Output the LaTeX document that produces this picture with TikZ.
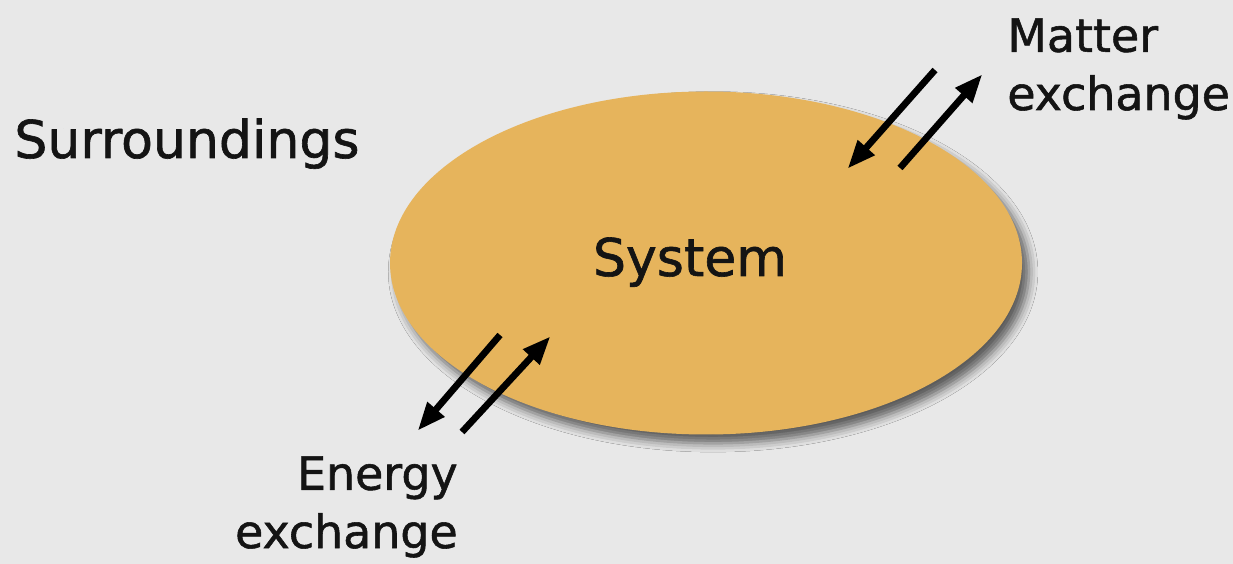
\documentclass[tikz,border=0pt]{standalone}
\usepackage{fontspec}
\setmainfont[FakeBold=1.2]{DejaVu Sans}
\usetikzlibrary{arrows.meta,shadows.blur,shapes.geometric}
\definecolor{bg}{HTML}{E8E8E8}
\definecolor{sysfill}{HTML}{E6B45C}
\definecolor{ink}{HTML}{141414}
\tikzset{
  lbl/.style={text=ink, inner sep=0pt, font=\fontsize{26}{33}\selectfont},
  biglbl/.style={text=ink, inner sep=0pt, font=\fontsize{29.5}{35}\selectfont},
  xarrow/.style={draw=black, line width=3.8pt, -{Triangle[length=16pt,width=12pt]}, shorten >=-2pt},
}
\begin{document}
\begin{tikzpicture}[x=0.567pt,y=-0.567pt]
\fill[bg] (0,0) rectangle (1233,564);
\useasboundingbox (0,0) rectangle (1233,564);
\node[ellipse, fill=sysfill, minimum width=632*0.567pt, minimum height=343*0.567pt, inner sep=0pt,
  blur shadow={shadow xshift=4pt, shadow yshift=-5pt, shadow blur radius=5pt, shadow opacity=60}]
  (sys) at (706,263) {};
\node[biglbl, anchor=base] (systxt) at (690,276) {System};
\node[biglbl, anchor=base west] (surr) at (14,158) {Surroundings};
\node[lbl, anchor=base west, align=left] (matter) at (1007,110) {Matter\\exchange};
\node[lbl, anchor=base east, align=right] (energy) at (458,548) {Energy\\exchange};
% matter arrows
\coordinate (m1s) at (935,70);
\coordinate (m1e) at (850,166);
\coordinate (m2s) at (900,168);
\coordinate (m2e) at (980,77);
\draw[xarrow] (m1s) -- (m1e);
\draw[xarrow] (m2s) -- (m2e);
% energy arrows
\coordinate (e1s) at (500,335);
\coordinate (e1e) at (420,428);
\coordinate (e2s) at (462,432);
\coordinate (e2e) at (548,339);
\draw[xarrow] (e1s) -- (e1e);
\draw[xarrow] (e2s) -- (e2e);
\end{tikzpicture}
\end{document}
